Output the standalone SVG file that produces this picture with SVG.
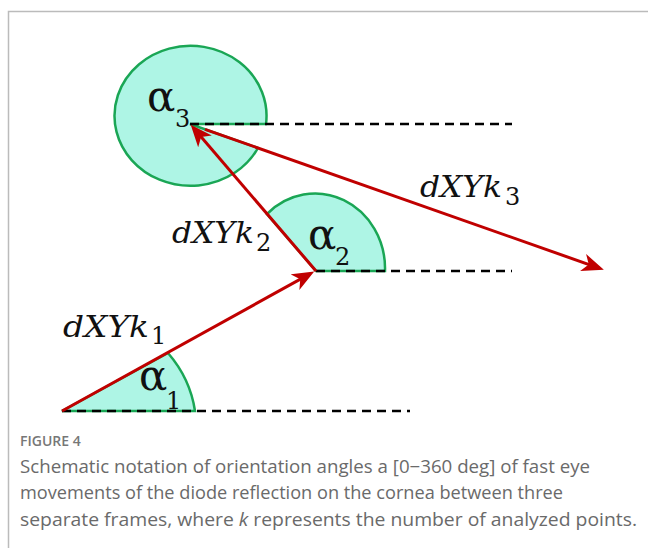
<svg xmlns="http://www.w3.org/2000/svg" width="648" height="548" viewBox="0 0 648 548">
<style>
.sector{fill:#aef5e5;stroke:#1aa655;stroke-width:2.5}
.dash{stroke:#000;stroke-width:2.5;stroke-dasharray:9 6;fill:none}
.vec{stroke:#c00000;stroke-width:3;fill:none;marker-end:url(#ah)}
.m{font-family:"DejaVu Serif","Liberation Serif",serif;font-style:italic;font-size:30px;fill:#111}
.al{font-family:"DejaVu Serif","Liberation Serif",serif;font-size:42px;fill:#111}
.sub{font-family:"DejaVu Serif","Liberation Serif",serif;font-size:24px;fill:#111}
.cap{font-family:"Open Sans","Noto Sans",sans-serif;font-size:18px;fill:#6a6a6a}
.fig{font-family:"Open Sans","Noto Sans",sans-serif;font-size:14px;font-weight:600;fill:#777}
</style>
<defs>
<marker id="ah" markerUnits="userSpaceOnUse" markerWidth="24" markerHeight="18" viewBox="0 0 24 18" refX="16" refY="9" orient="auto">
<path d="M0,0 L22,9 L0,18 L6,9 Z" fill="#c00000"/>
</marker>
</defs>
<rect width="648" height="548" fill="#fff"/>
<path d="M8.5,548 V11.5 H648" fill="none" stroke="#bbb" stroke-width="1.5"/>

<g id="alpha3">
<path class="sector" d="M190,124 L266,124 A76 70 0 1 0 258,148 Z"/>
<text class="al" x="147" y="111">α</text>
<text class="sub" x="175" y="127">3</text>
</g>
<g id="alpha2">
<path class="sector" d="M316,271 L385,271 A70 75 0 0 0 267,214 Z"/>
<text class="al" x="308" y="249">α</text>
<text class="sub" x="335" y="265">2</text>
</g>
<g id="alpha1">
<path class="sector" d="M62,411 L195,411 A133 120 0 0 0 168,353 Z"/>
<text class="al" x="139" y="390">α</text>
<text class="sub" x="166" y="409">1</text>
</g>

<g id="connectors">
<path class="dash" d="M190,124 H512"/>
<path class="dash" d="M316,271 H512"/>
<path class="dash" d="M62,411 H410"/>
<path class="vec" d="M62,411 L309,274.4"/>
<path class="vec" d="M316,271 L194.6,129.3"/>
<path class="vec" d="M205,129.3 L598.2,267.8"/>
</g>

<g id="label-k1">
<text class="m" x="63" y="337" textLength="86" lengthAdjust="spacingAndGlyphs">dXYk</text>
<text class="sub" x="151" y="344">1</text>
</g>
<g id="label-k2">
<text class="m" x="172" y="243" textLength="82" lengthAdjust="spacingAndGlyphs">dXYk</text>
<text class="sub" x="256" y="251">2</text>
</g>
<g id="label-k3">
<text class="m" x="420" y="197" textLength="82" lengthAdjust="spacingAndGlyphs">dXYk</text>
<text class="sub" x="505" y="205">3</text>
</g>

<g id="caption">
<text class="fig" x="20" y="446">FIGURE 4</text>
<text class="cap" x="20" y="473" textLength="570" lengthAdjust="spacingAndGlyphs">Schematic notation of orientation angles a [0−360 deg] of fast eye</text>
<text class="cap" x="20" y="499" textLength="543" lengthAdjust="spacingAndGlyphs">movements of the diode reflection on the cornea between three</text>
<text class="cap" x="20" y="526" textLength="617" lengthAdjust="spacingAndGlyphs">separate frames, where <tspan font-style="italic">k</tspan> represents the number of analyzed points.</text>
</g>
</svg>
